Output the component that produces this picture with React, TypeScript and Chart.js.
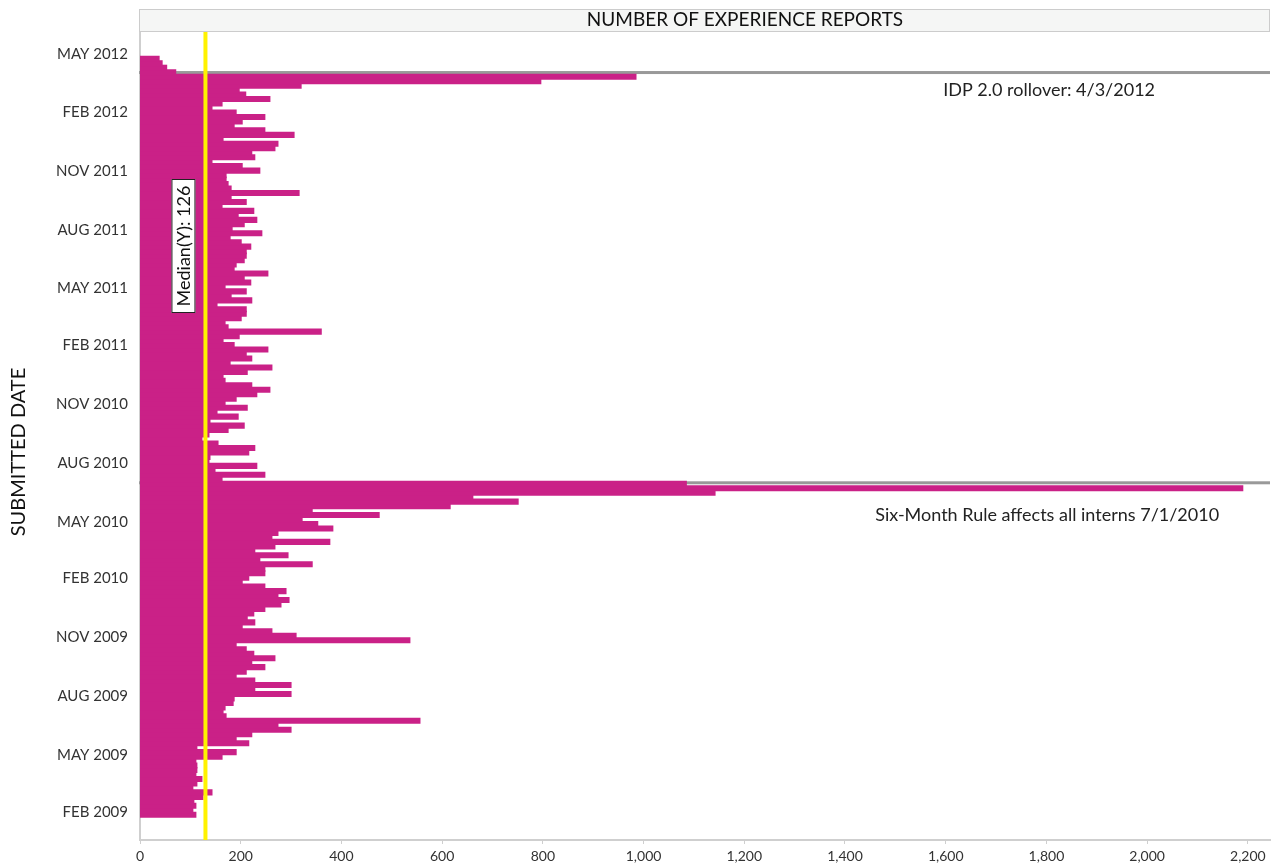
import React, { useEffect, useRef } from "react";
import { Chart, registerables } from "chart.js";

Chart.register(...registerables);

// ---- data (weekly, oldest first) ----
const FIRST_WEEK_START = "2009-01-24";
const WEEKLY_REPORTS = [
  111, 105, 111, 107, 125, 143, 105, 113, 123, 111,
  113, 113, 111, 163, 191, 113, 216, 191, 222, 300,
  274, 556, 171, 165, 169, 185, 187, 300, 228, 300,
  228, 191, 211, 248, 222, 268, 226, 211, 191, 536,
  310, 262, 203, 228, 213, 226, 248, 280, 296, 274,
  290, 248, 203, 216, 248, 248, 342, 238, 294, 228,
  268, 377, 262, 274, 383, 353, 322, 475, 342, 616,
  751, 661, 1142, 2190, 1085, 163, 248, 149, 232, 137,
  139, 216, 228, 155, 123, 137, 175, 207, 139, 195,
  153, 213, 169, 191, 232, 258, 222, 169, 165, 213,
  262, 179, 222, 211, 254, 187, 165, 197, 360, 175,
  169, 201, 211, 211, 153, 222, 181, 211, 169, 220,
  207, 254, 187, 191, 207, 211, 211, 220, 201, 179,
  242, 183, 207, 232, 195, 226, 163, 211, 181, 316,
  181, 175, 171, 171, 238, 203, 143, 228, 222, 268,
  274, 165, 306, 248, 187, 203, 248, 191, 143, 163,
  258, 210, 197, 320, 796, 985, 71, 53, 44, 38,
];

const Y_TICK_LABELS = [
  "FEB 2009", "MAY 2009", "AUG 2009", "NOV 2009",
  "FEB 2010", "MAY 2010", "AUG 2010", "NOV 2010",
  "FEB 2011", "MAY 2011", "AUG 2011", "NOV 2011",
  "FEB 2012", "MAY 2012",
];
const X_TICKS = [0, 200, 400, 600, 800, 1000, 1200, 1400, 1600, 1800, 2000, 2200];
const X_MAX = 2244;
const AXIS_START = "2008-12-19";
const AXIS_END = "2012-06-07";

const MEDIAN_VALUE = 126;
const EVENT_DATES = ["2012-04-03", "2010-07-01"];
const EVENT_LABELS = ["IDP 2.0 rollover: 4/3/2012", "Six-Month Rule affects all interns 7/1/2010"];

const TITLE = "NUMBER OF EXPERIENCE REPORTS";
const Y_TITLE = "SUBMITTED DATE";

// ---- helpers ----
const MONTHS = ["JAN", "FEB", "MAR", "APR", "MAY", "JUN", "JUL", "AUG", "SEP", "OCT", "NOV", "DEC"];
const dayNum = (iso: string) => Date.parse(iso + "T00:00:00Z") / 86400000;
const labelDay = (lbl: string) => {
  const [m, y] = lbl.split(" ");
  return Date.UTC(Number(y), MONTHS.indexOf(m), 1) / 86400000;
};

const FONT = 'Lato, "Open Sans", "DejaVu Sans", sans-serif';

export default function App() {
  const canvasRef = useRef<HTMLCanvasElement | null>(null);

  useEffect(() => {
    const start = dayNum(FIRST_WEEK_START);
    const points = WEEKLY_REPORTS.map((v, i) => ({ x: v, y: start + 3.5 + 7 * i }));
    const yTicks = Y_TICK_LABELS.map((l) => ({ value: labelDay(l), label: l })).sort((a, b) => a.value - b.value);

    const overlay = {
      id: "overlay",
      beforeDatasetsDraw(chart: any) {
        const { ctx, chartArea, scales } = chart;
        ctx.save();
        ctx.fillStyle = "#999999";
        EVENT_DATES.forEach((d) => {
          const py = scales.y.getPixelForValue(dayNum(d));
          ctx.fillRect(chartArea.left - 1, py - 1.5, chartArea.right - chartArea.left + 1, 3);
        });
        ctx.restore();
      },
      afterDatasetsDraw(chart: any) {
        const { ctx, chartArea, scales } = chart;
        const xs = scales.x;
        const ys = scales.y;
        ctx.save();
        // median line
        const mx = xs.getPixelForValue(MEDIAN_VALUE);
        ctx.fillStyle = "#FFF200";
        ctx.fillRect(mx, chartArea.top, 4, chartArea.bottom - chartArea.top);
        // median label
        const cx = mx - 20;
        const cy = 246;
        ctx.fillStyle = "#ffffff";
        ctx.fillRect(cx - 12, cy - 67, 24, 134);
        ctx.strokeStyle = "#222";
        ctx.lineWidth = 1;
        ctx.strokeRect(cx - 12 + 0.5, cy - 67 + 0.5, 23, 133);
        ctx.translate(cx, cy);
        ctx.rotate(-Math.PI / 2);
        ctx.fillStyle = "#111";
        ctx.font = `18px ${FONT}`;
        ctx.textAlign = "center";
        ctx.textBaseline = "middle";
        ctx.fillText(`Median(Y): ${MEDIAN_VALUE}`, 0, 1);
        ctx.restore();

        // event labels
        ctx.save();
        ctx.fillStyle = "#222";
        ctx.font = `18px ${FONT}`;
        ctx.textAlign = "left";
        ctx.textBaseline = "middle";
        const py0 = ys.getPixelForValue(dayNum(EVENT_DATES[0]));
        ctx.fillText(EVENT_LABELS[0], xs.getPixelForValue(1595), py0 + 18);
        const py1 = ys.getPixelForValue(dayNum(EVENT_DATES[1]));
        ctx.fillText(EVENT_LABELS[1], xs.getPixelForValue(1460), py1 + 32);
        ctx.restore();
      },
      afterDraw(chart: any) {
        const { ctx, chartArea } = chart;
        ctx.save();
        // header box
        ctx.fillStyle = "#f5f6f5";
        ctx.fillRect(chartArea.left - 1, 9, chartArea.right - chartArea.left + 1, 22);
        ctx.strokeStyle = "#cccccc";
        ctx.lineWidth = 1;
        ctx.strokeRect(chartArea.left - 0.5, 9.5, chartArea.right - chartArea.left, 22);
        ctx.fillStyle = "#111";
        ctx.font = `19px ${FONT}`;
        ctx.textAlign = "center";
        ctx.textBaseline = "middle";
        ctx.fillText(TITLE, 745, 20);
        // y title
        ctx.translate(19, 452);
        ctx.rotate(-Math.PI / 2);
        ctx.font = `20px ${FONT}`;
        ctx.fillText(Y_TITLE, 0, 0);
        ctx.restore();
      },
    };

    const chart = new Chart(canvasRef.current as HTMLCanvasElement, {
      type: "bar",
      data: {
        datasets: [
          {
            data: points as any,
            backgroundColor: "#CA2187",
            borderWidth: 0,
            barPercentage: 1.14,
            categoryPercentage: 1,
            grouped: false,
            inflateAmount: 0.5,
          } as any,
        ],
      },
      options: {
        indexAxis: "y",
        animation: false,
        responsive: true,
        maintainAspectRatio: false,
        layout: { padding: { top: 31, right: 13, left: 0, bottom: 0 } },
        plugins: {
          legend: { display: false },
          tooltip: { enabled: false },
          title: { display: false },
        },
        scales: {
          y: {
            type: "linear",
            min: dayNum(AXIS_START),
            max: dayNum(AXIS_END),
            offset: false,
            grid: { display: false, drawTicks: false },
            border: { display: true, color: "#cfcfcf", width: 2 },
            ticks: {
              autoSkip: false,
              padding: 12,
              color: "#333",
              font: { family: FONT, size: 15 },
              callback: (_v: any, i: number) => yTicks[i]?.label ?? "",
            },
            afterBuildTicks: (s: any) => {
              s.ticks = yTicks.map((t) => ({ value: t.value }));
            },
            afterFit: (s: any) => {
              s.width = 140;
            },
          },
          x: {
            type: "linear",
            position: "bottom",
            min: 0,
            max: X_MAX,
            grid: { drawOnChartArea: false, drawTicks: true, tickLength: 4, color: "#cfcfcf" },
            border: { display: true, color: "#cfcfcf", width: 2 },
            ticks: {
              autoSkip: false,
              maxRotation: 0,
              padding: 4,
              color: "#333",
              font: { family: FONT, size: 14 },
              callback: (v: any) => Number(v).toLocaleString("en-US"),
            },
            afterBuildTicks: (s: any) => {
              s.ticks = X_TICKS.map((v) => ({ value: v }));
            },
            afterFit: (s: any) => {
              s.height = 26;
            },
          },
        } as any,
      },
      plugins: [overlay],
    });

    return () => chart.destroy();
  }, []);

  return (
    <div style={{ position: "absolute", left: 0, top: 0, width: 1283, height: 866, background: "#fff" }}>
      <canvas ref={canvasRef} />
    </div>
  );
}
